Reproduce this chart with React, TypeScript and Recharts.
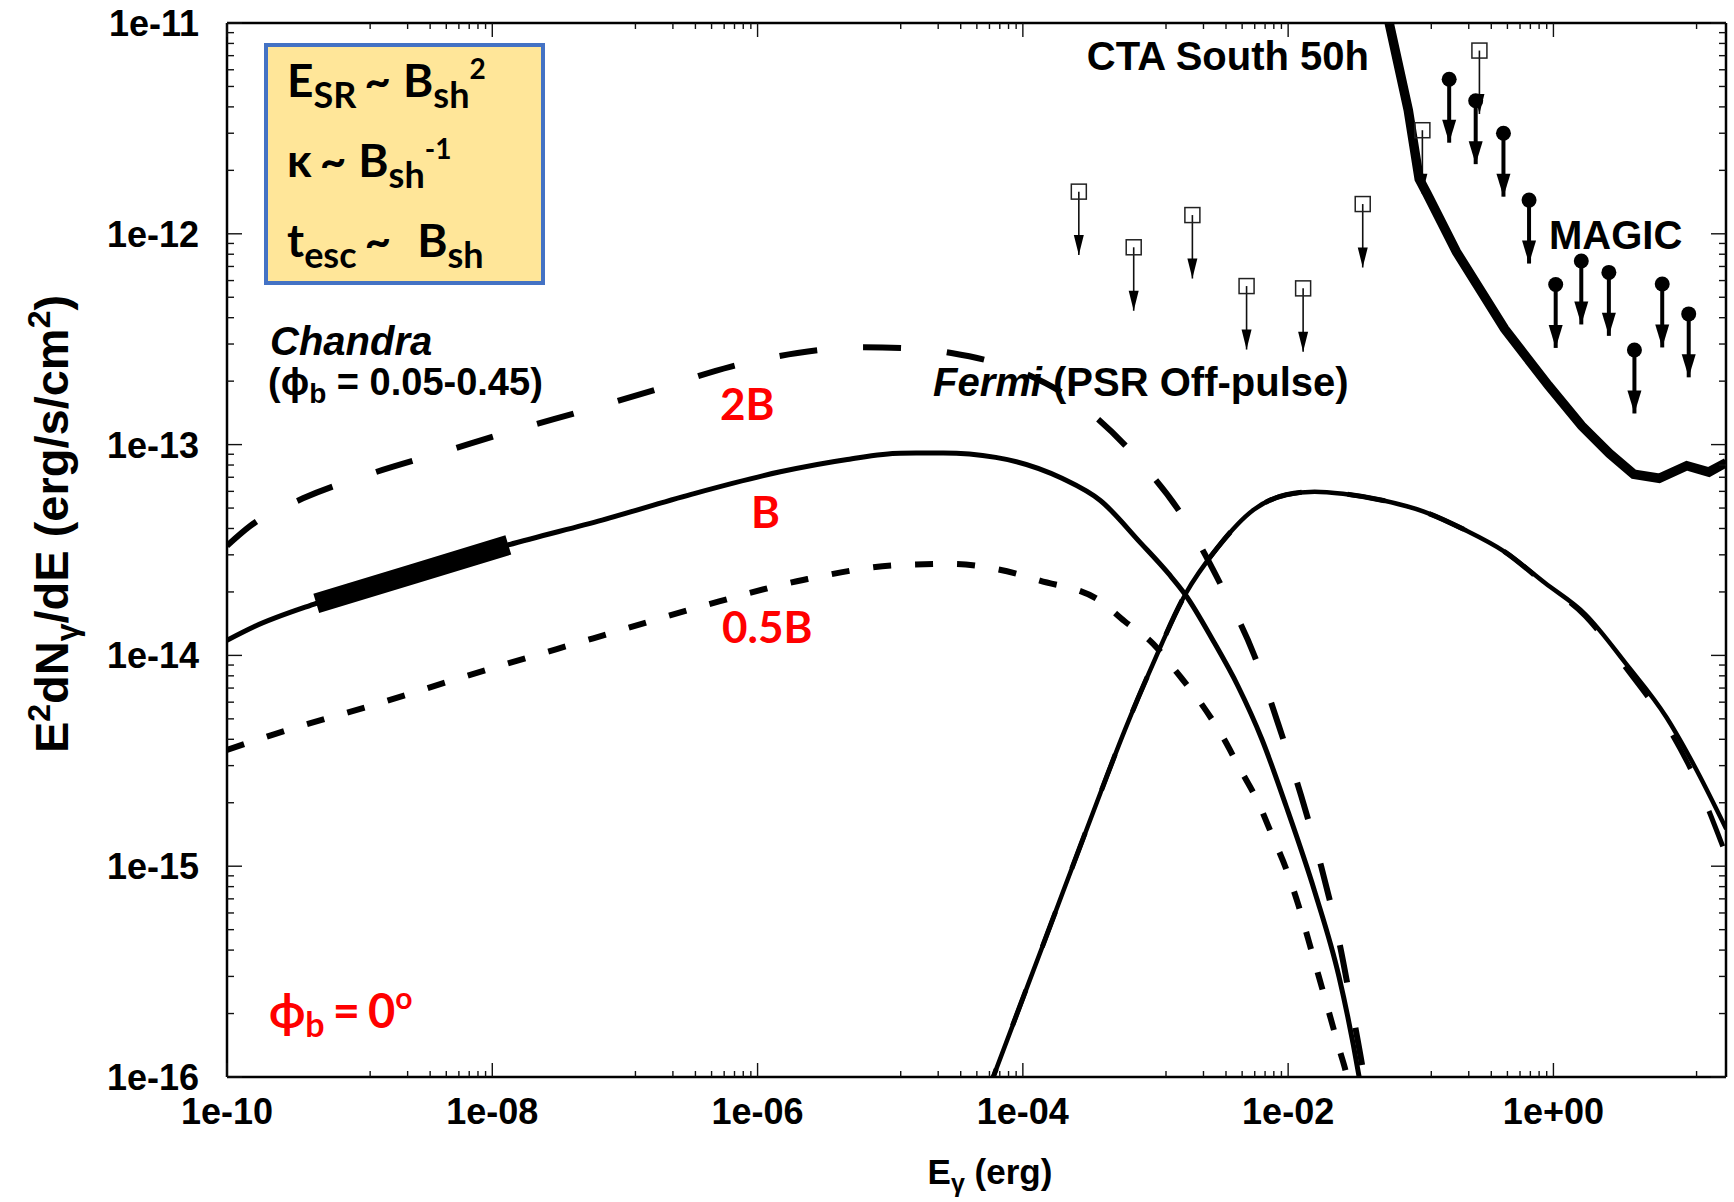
import React from 'react';
import { ComposedChart, Line, Scatter, XAxis, YAxis, ErrorBar } from 'recharts';

const W = 1734;
const H = 1202;
const HELV = '"Liberation Sans", Arial, Helvetica, sans-serif';
const CALI = 'Lato, "Open Sans", "DejaVu Sans", sans-serif';

// ---- axes ----
const X_MAJOR = [1e-10, 1e-8, 1e-6, 1e-4, 1e-2, 1];
const X_LABELS = ['1e-10', '1e-08', '1e-06', '1e-04', '1e-02', '1e+00'];
// gnuplot puts 8 linear minor tics between majors that are 100x apart
const X_MINOR_STEPS = [1.2, 2.3, 3.4, 4.5, 5.6, 6.7, 7.8, 8.9];
const X_MINOR_BASES = [1e-9, 1e-7, 1e-5, 1e-3, 1e-1, 10];
const Y_MAJOR = [1e-16, 1e-15, 1e-14, 1e-13, 1e-12, 1e-11];
const Y_LABELS = ['1e-16', '1e-15', '1e-14', '1e-13', '1e-12', '1e-11'];
const Y_MINOR_STEPS = [2, 3, 4, 5, 6, 7, 8, 9];

const X_MINOR = X_MINOR_BASES.flatMap((b) => X_MINOR_STEPS.map((s) => s * b)).filter((v) => v <= 20);
const Y_MINOR = Y_MAJOR.slice(0, 5).flatMap((b) => Y_MINOR_STEPS.map((s) => s * b));
const X_TICKS = [...X_MAJOR, ...X_MINOR];
const Y_TICKS = [...Y_MAJOR, ...Y_MINOR];

// ---- synchrotron, B (solid) ----
const SYN_B_E = [1e-10, 1.596e-10, 4.71e-10, 2.51e-9, 1.321e-8, 6.73e-8, 3.162e-7, 1.483e-6, 4.75e-6, 1.191e-5, 2.512e-5, 6.24e-5, 1.972e-4, 3.837e-4, 7.745e-4, 1.265e-3, 1.675e-3, 2.735e-3, 4.18e-3, 6.35e-3, 9.68e-3, 1.585e-2, 2.415e-2, 3.43e-2, 3.98e-2];
const SYN_B_F = [1.18e-14, 1.368e-14, 1.766e-14, 2.43e-14, 3.342e-14, 4.385e-14, 5.81e-14, 7.43e-14, 8.5e-14, 9.1e-14, 9.12e-14, 8.7e-14, 6.92e-14, 5.43e-14, 3.41e-14, 2.427e-14, 1.945e-14, 1.167e-14, 7.16e-15, 3.99e-15, 1.919e-15, 7.59e-16, 3.0e-16, 1e-16, 5.6e-17];

// Chandra band (thick segment)
const CHANDRA_E = [4.71e-10, 2.51e-9, 1.321e-8];
const CHANDRA_F = [1.766e-14, 2.43e-14, 3.342e-14];

// ---- synchrotron, 2B (dashed) ----
const SYN_2B_E = [1e-10, 1.472e-10, 3.74e-10, 1.245e-9, 4.3e-9, 1.483e-8, 5.13e-8, 1.84e-7, 6.31e-7, 2.0e-6, 6.31e-6, 1.585e-5, 2.89e-5, 9.14e-5, 3.06e-4, 7.745e-4, 1.698e-3, 3.19e-3, 5.53e-3, 8.53e-3, 1.256e-2, 1.786e-2, 2.415e-2, 3.08e-2, 3.67e-2, 4.17e-2];
const SYN_2B_F = [3.31e-14, 4.08e-14, 5.56e-14, 7.31e-14, 9.25e-14, 1.172e-13, 1.459e-13, 1.849e-13, 2.344e-13, 2.72e-13, 2.9e-13, 2.85e-13, 2.72e-13, 2.249e-13, 1.455e-13, 8.22e-14, 4.32e-14, 2.094e-14, 1.007e-14, 4.61e-15, 2.148e-15, 9.82e-16, 4.44e-16, 1.98e-16, 1.07e-16, 6.3e-17];

// ---- synchrotron, 0.5B (dotted) ----
const SYN_05B_E = [1e-10, 2.17e-10, 1.396e-9, 8.97e-9, 5.77e-8, 3.7e-7, 2.2e-6, 1.191e-5, 2.89e-5, 6.31e-5, 1.343e-4, 3.837e-4, 5.85e-4, 9.57e-4, 1.455e-3, 2.218e-3, 3.155e-3, 4.325e-3, 5.93e-3, 7.59e-3, 9.68e-3, 1.194e-2, 1.426e-2, 1.702e-2, 2.03e-2, 2.415e-2, 2.78e-2, 3.16e-2];
const SYN_05B_F = [3.56e-15, 4.19e-15, 5.93e-15, 8.53e-15, 1.205e-14, 1.702e-14, 2.28e-14, 2.685e-14, 2.716e-14, 2.57e-14, 2.265e-14, 1.811e-14, 1.452e-14, 1.138e-14, 8.28e-15, 5.89e-15, 4.19e-15, 2.904e-15, 2.014e-15, 1.396e-15, 9.68e-16, 6.55e-16, 4.44e-16, 3.0e-16, 2.03e-16, 1.374e-16, 1e-16, 6.3e-17];

// ---- inverse Compton ----
const IC_E = [5.01e-5, 5.98e-5, 1.479e-4, 3.837e-4, 5.85e-4, 9.57e-4, 1.675e-3, 2.94e-3, 5.53e-3, 9.68e-3, 1.585e-2, 2.59e-2, 5.22e-2, 1.054e-1, 2.128e-1, 4.3e-1, 8.65e-1, 1.746, 3.52, 7.11, 11.61, 20.1];
const IC_B_F = [7.41e-17, 1e-16, 4.53e-16, 2.218e-15, 4.4e-15, 9.12e-15, 1.945e-14, 3.25e-14, 4.92e-14, 5.78e-14, 5.98e-14, 5.85e-14, 5.43e-14, 4.81e-14, 3.95e-14, 3.1e-14, 2.203e-14, 1.563e-14, 9.14e-15, 5.09e-15, 2.972e-15, 1.5e-15];
const IC_2B_F = [7.41e-17, 1e-16, 4.53e-16, 2.218e-15, 4.4e-15, 9.12e-15, 1.945e-14, 3.25e-14, 4.92e-14, 5.78e-14, 5.98e-14, 5.85e-14, 5.43e-14, 4.81e-14, 3.95e-14, 3.1e-14, 2.18e-14, 1.531e-14, 8.71e-15, 4.68e-15, 2.63e-15, 1.122e-15];

// ---- CTA South 50h sensitivity ----
const CTA_E = [5.5e-2, 5.82e-2, 8.05e-2, 9.73e-2, 1.112e-1, 1.854e-1, 2.904e-1, 4.27e-1, 9.18e-1, 1.633, 2.642, 4.03, 6.27, 10.12, 14.86, 20.1];
const CTA_F = [1.202e-11, 9.79e-12, 3.86e-12, 1.82e-12, 1.552e-12, 8.22e-13, 5.24e-13, 3.55e-13, 1.905e-13, 1.227e-13, 9.08e-14, 7.24e-14, 6.92e-14, 7.94e-14, 7.41e-14, 8.22e-14];

// ---- upper limits ----
const FERMI_E = [2.642e-4, 6.85e-4, 1.897e-3, 4.86e-3, 1.297e-2, 3.65e-2, 1.028e-1, 2.767e-1];
const FERMI_UL = [1.585e-12, 8.63e-13, 1.227e-12, 5.65e-13, 5.51e-13, 1.384e-12, 3.1e-12, 7.4e-12];
const MAGIC_E = [1.637e-1, 2.594e-1, 4.2e-1, 6.55e-1, 1.04, 1.622, 2.618, 4.08, 6.61, 10.47];
const MAGIC_UL = [5.41e-12, 4.28e-12, 3.0e-12, 1.445e-12, 5.75e-13, 7.43e-13, 6.56e-13, 2.81e-13, 5.78e-13, 4.17e-13];
const ARROW_DROP = 0.5; // arrows reach down to half the limit

const zip = (xs: number[], ys: number[]) => xs.map((x, i) => ({ x, y: ys[i] }));
const limits = (xs: number[], ys: number[]) => xs.map((x, i) => ({ x, y: ys[i], err: [ys[i] * (1 - ARROW_DROP), 0] }));
const tips = (xs: number[], ys: number[]) => xs.map((x, i) => ({ x, y: ys[i] * ARROW_DROP }));

const synB = zip(SYN_B_E, SYN_B_F);
const chandra = zip(CHANDRA_E, CHANDRA_F);
const syn2B = zip(SYN_2B_E, SYN_2B_F);
const syn05B = zip(SYN_05B_E, SYN_05B_F);
const icB = zip(IC_E, IC_B_F);
const ic2B = zip(IC_E, IC_2B_F);
const cta = zip(CTA_E, CTA_F);
const fermi = limits(FERMI_E, FERMI_UL);
const fermiTips = tips(FERMI_E, FERMI_UL);
const magic = limits(MAGIC_E, MAGIC_UL);
const magicTips = tips(MAGIC_E, MAGIC_UL);

const labelStyle = { fontFamily: HELV, fontWeight: 700, fontSize: 36, fill: '#000' } as const;

const xTick = (side: 'b' | 't') => (props: any) => {
  const { x, y, payload } = props;
  const i = X_MAJOR.indexOf(payload.value);
  const len = i >= 0 ? 14 : 6;
  const dir = side === 'b' ? -1 : 1;
  return (
    <g>
      <line x1={x} x2={x} y1={y} y2={y + dir * len} stroke="#111" strokeWidth={1.4} />
      {side === 'b' && i >= 0 && (
        <text x={x} y={y + 47} textAnchor="middle" {...labelStyle}>{X_LABELS[i]}</text>
      )}
    </g>
  );
};

const yTick = (side: 'l' | 'r') => (props: any) => {
  const { x, y, payload } = props;
  const i = Y_MAJOR.indexOf(payload.value);
  const len = i >= 0 ? 15 : 7;
  const dir = side === 'l' ? 1 : -1;
  return (
    <g>
      <line x1={x} x2={x + dir * len} y1={y} y2={y} stroke="#111" strokeWidth={1.4} />
      {side === 'l' && i >= 0 && (
        <text x={x - 28} y={y + 13} textAnchor="end" {...labelStyle}>{Y_LABELS[i]}</text>
      )}
    </g>
  );
};

const FermiBox = (p: any) => (
  <rect x={p.cx - 7.5} y={p.cy - 7.5} width={15} height={15} fill="none" stroke="#222" strokeWidth={1.5} />
);
const FermiHead = (p: any) => (
  <polygon points={`${p.cx},${p.cy} ${p.cx - 5},${p.cy - 20} ${p.cx + 5},${p.cy - 20}`} fill="#000" />
);
const MagicDot = (p: any) => <circle cx={p.cx} cy={p.cy} r={7.5} fill="#000" />;
const MagicHead = (p: any) => (
  <polygon points={`${p.cx},${p.cy} ${p.cx - 7},${p.cy - 23} ${p.cx + 7},${p.cy - 23}`} fill="#000" />
);

const axisLine = { stroke: '#000', strokeWidth: 2.5 };
const common = { xAxisId: 'b', yAxisId: 'l', dot: false, activeDot: false, isAnimationActive: false, dataKey: 'y' } as const;

export default function App() {
  return (
    <div style={{ position: 'absolute', left: 0, top: 0, width: W, height: H, background: '#fff' }}>
      <ComposedChart width={W} height={H} margin={{ top: 22, right: 7, bottom: 124, left: 226 }}>
        <XAxis xAxisId="b" type="number" dataKey="x" scale="log" domain={[1e-10, 20]} allowDataOverflow
          ticks={X_TICKS} interval={0} tickSize={0} tickMargin={0} height={1} tickLine={false}
          axisLine={axisLine} tick={xTick('b')} />
        <XAxis xAxisId="t" orientation="top" type="number" dataKey="x" scale="log" domain={[1e-10, 20]} allowDataOverflow
          ticks={X_TICKS} interval={0} tickSize={0} tickMargin={0} height={1} tickLine={false}
          axisLine={axisLine} tick={xTick('t')} />
        <YAxis yAxisId="l" type="number" dataKey="y" scale="log" domain={[1e-16, 1e-11]} allowDataOverflow
          ticks={Y_TICKS} interval={0} tickSize={0} tickMargin={0} width={1} tickLine={false}
          axisLine={axisLine} tick={yTick('l')} />
        <YAxis yAxisId="r" orientation="right" type="number" dataKey="y" scale="log" domain={[1e-16, 1e-11]} allowDataOverflow
          ticks={Y_TICKS} interval={0} tickSize={0} tickMargin={0} width={1} tickLine={false}
          axisLine={axisLine} tick={yTick('r')} />

        <Line {...common} data={syn2B} type="monotone" stroke="#000" strokeWidth={6} strokeDasharray="38 46" />
        <Line {...common} data={syn05B} type="monotone" stroke="#000" strokeWidth={6} strokeDasharray="18 24" />
        <Line {...common} data={synB} type="monotone" stroke="#000" strokeWidth={5} />
        <Line {...common} data={chandra} type="linear" stroke="#000" strokeWidth={20} />
        <Line {...common} data={icB} type="monotone" stroke="#000" strokeWidth={4.5} />
        <Line {...common} data={ic2B} type="monotone" stroke="#000" strokeWidth={5} strokeDasharray="38 46" />

        <Scatter xAxisId="b" yAxisId="l" data={fermi} dataKey="y" shape={FermiBox} isAnimationActive={false}>
          <ErrorBar dataKey="err" direction="y" width={0} stroke="#111" strokeWidth={1.6} />
        </Scatter>
        <Scatter xAxisId="b" yAxisId="l" data={fermiTips} dataKey="y" shape={FermiHead} isAnimationActive={false} />
        <Line {...common} data={cta} type="linear" stroke="#000" strokeWidth={9.5} />
        <Scatter xAxisId="b" yAxisId="l" data={magic} dataKey="y" shape={MagicDot} isAnimationActive={false}>
          <ErrorBar dataKey="err" direction="y" width={0} stroke="#000" strokeWidth={4} />
        </Scatter>
        <Scatter xAxisId="b" yAxisId="l" data={magicTips} dataKey="y" shape={MagicHead} isAnimationActive={false} />
      </ComposedChart>

      <svg width={W} height={H} style={{ position: 'absolute', left: 0, top: 0, pointerEvents: 'none' }}>
        {/* scaling box */}
        <rect x={266} y={45} width={277} height={238} fill="#FFE699" stroke="#4472C4" strokeWidth={4} />
        <g fontFamily={CALI} fontWeight={700} fill="#000">
          <text x={287} y={97} fontSize={46}>
            E<tspan fontSize={36} dy={11}>SR</tspan>
            <tspan dy={-11} dx={8}>~</tspan>
            <tspan dx={12}>B</tspan>
            <tspan fontSize={36} dy={11}>sh</tspan>
            <tspan fontSize={28} dy={-29}>2</tspan>
          </text>
          <text x={287} y={177} fontSize={46}>
            κ<tspan dx={8}>~</tspan>
            <tspan dx={12}>B</tspan>
            <tspan fontSize={36} dy={11}>sh</tspan>
            <tspan fontSize={28} dy={-29}>-1</tspan>
          </text>
          <text x={287} y={257} fontSize={46}>
            t<tspan fontSize={36} dy={11}>esc</tspan>
            <tspan dy={-11} dx={8}>~</tspan>
            <tspan dx={26}>B</tspan>
            <tspan fontSize={36} dy={11}>sh</tspan>
          </text>
        </g>

        {/* red model labels */}
        <g fontFamily={CALI} fontWeight={700} fill="#FF0000" fontSize={44}>
          <text x={720} y={420}>2B</text>
          <text x={751} y={528}>B</text>
          <text x={722} y={643}>0.5B</text>
          <text x={269} y={1028} fontSize={47}>
            ϕ<tspan fontSize={34} dy={9}>b</tspan>
            <tspan dy={-9} dx={8}>=</tspan>
            <tspan dx={8}>0</tspan>
            <tspan fontSize={30} dy={-19}>o</tspan>
          </text>
        </g>

        {/* instrument labels */}
        <g fontFamily={HELV} fontWeight={700} fontSize={40} fill="#000">
          <text x={270} y={355} fontStyle="italic">Chandra</text>
          <text x={268} y={395} fontSize={38}>
            (ϕ<tspan fontSize={28} dy={8}>b</tspan>
            <tspan dy={-8}> = 0.05-0.45)</tspan>
          </text>
          <text x={933} y={396}>
            <tspan fontStyle="italic">Fermi</tspan> (PSR Off-pulse)
          </text>
          <text x={1369} y={70} textAnchor="end">CTA South 50h</text>
          <text x={1549} y={249}>MAGIC</text>
        </g>

        {/* axis titles */}
        <g fontFamily={HELV} fontWeight={700} fill="#000">
          <text x={990} y={1184} textAnchor="middle" fontSize={35}>
            E<tspan fontSize={25} dy={8}>γ</tspan>
            <tspan dy={-8}> (erg)</tspan>
          </text>
          <text transform="rotate(-90)" x={-524} y={68} textAnchor="middle" fontSize={47}>
            E<tspan fontSize={32} dy={-18}>2</tspan>
            <tspan dy={18}>dN</tspan>
            <tspan fontSize={32} dy={10}>γ</tspan>
            <tspan dy={-10}>/dE (erg/s/cm</tspan>
            <tspan fontSize={32} dy={-18}>2</tspan>
            <tspan dy={18}>)</tspan>
          </text>
        </g>
      </svg>
    </div>
  );
}
